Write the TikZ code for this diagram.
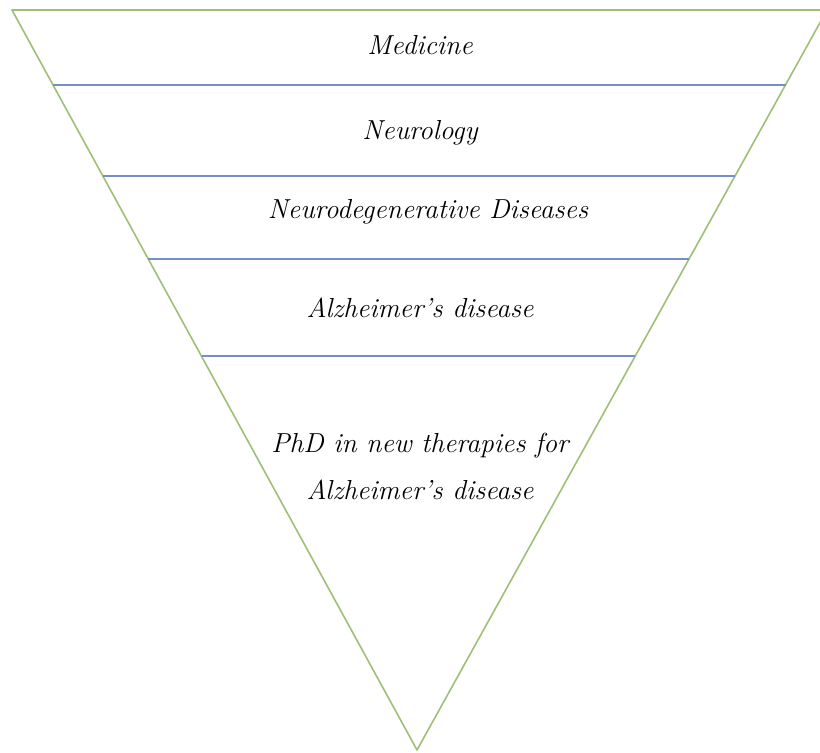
\documentclass[tikz,border=0pt]{standalone}
\usepackage{tikz}
\usetikzlibrary{positioning,calc}
\definecolor{FunnelGreen}{RGB}{160,190,120}
\definecolor{LevelBlue}{RGB}{118,142,198}

\begin{document}
\begin{tikzpicture}[x=1pt,y=-1pt, every node/.style={font=\fontsize{27.5}{33}\selectfont\itshape, align=center}]
\tikzset{
  edge/.style={line width=1.6pt, FunnelGreen},
  level/.style={line width=2pt, LevelBlue}
}
  \useasboundingbox (0,0) rectangle (820,753);
  \coordinate (tl) at (12,10);
  \coordinate (tr) at (827,10);
  \coordinate (ap) at (417,750);

  % funnel outline
  \draw[edge, line join=round] (tl) -- (tr) -- (ap) -- cycle;

  % separators between levels
  \foreach \t in {0.101,0.224,0.336,0.468}
    \draw[level] ($(tl)!\t!(ap)$) -- ($(tr)!\t!(ap)$);

  \node (medicine) at (420,45) {Medicine};
  \node (neuro) at (420,133) {Neurology};
  \node (ndd) at (428,212) {Neurodegenerative Diseases};
  \node (ad) at (420,308) {Alzheimer's disease};
  \node (phd) at (420,466) {PhD in new therapies for\\[14pt]Alzheimer's disease};
\end{tikzpicture}
\end{document}
